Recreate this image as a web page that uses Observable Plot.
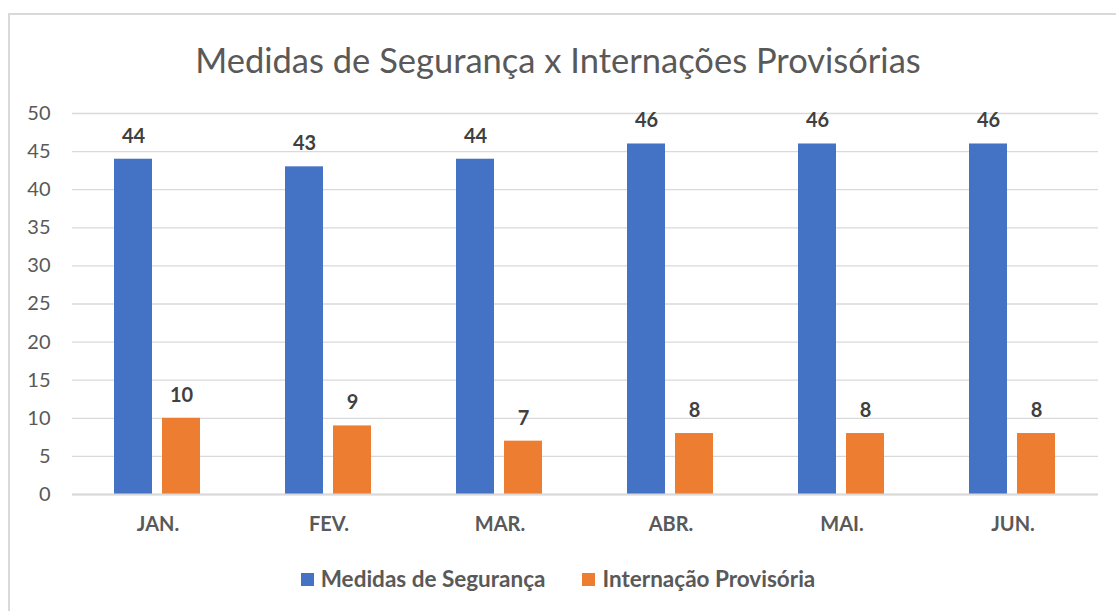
<!DOCTYPE html>
<html>
<head>
<meta charset="utf-8">
<script src="https://cdn.jsdelivr.net/npm/d3@7"></script>
<script src="https://cdn.jsdelivr.net/npm/@observablehq/plot@0.6"></script>
<style>
  html, body { margin: 0; padding: 0; background: #fff; }
  body { width: 1116px; height: 611px; overflow: hidden; font-family: Lato, "Open Sans", sans-serif; }
  #frame { position: absolute; left: 8px; top: 13px; width: 1200px; height: 700px; border-left: 2px solid #d9d9d9; border-top: 2px solid #d9d9d9; box-sizing: border-box; }
  #wrap { position: relative; width: 1116px; height: 611px; }
  #title { height: 95px; box-sizing: border-box; padding-top: 40px; text-align: center; font-size: 34.5px; line-height: 40px; color: #595959; position: relative; }
  #chart { position: relative; height: 455px; }
  #legend { position: relative; display: flex; justify-content: center; align-items: center; gap: 37px; padding-top: 16px; font-size: 22.5px; line-height: 26px; font-weight: bold; color: #595959; }
  .item { display: flex; align-items: center; gap: 7px; }
  .sw { width: 13px; height: 13px; display: inline-block; }
</style>
</head>
<body>
<div id="wrap">
  <div id="frame"></div>
  <div id="title">Medidas de Segurança x Internações Provisórias</div>
  <div id="chart"></div>
  <div id="legend"></div>
</div>
<script>
const months = ["JAN.", "FEV.", "MAR.", "ABR.", "MAI.", "JUN."];
const seriesNames = ["Medidas de Segurança", "Internação Provisória"];
const medidas = [44, 43, 44, 46, 46, 46];
const internacao = [10, 9, 7, 8, 8, 8];
const colors = ["#4472C4", "#ED7D31"];
const yTicks = [0, 5, 10, 15, 20, 25, 30, 35, 40, 45, 50];

const data = [];
months.forEach((m, i) => {
  data.push({month: m, series: seriesNames[0], value: medidas[i]});
  data.push({month: m, series: seriesNames[1], value: internacao[i]});
});

const plot = Plot.plot({
  width: 1116,
  height: 455,
  marginTop: 18,
  marginBottom: 56,
  marginLeft: 72,
  marginRight: 18,
  style: {fontFamily: "Lato, 'Open Sans', sans-serif", fontSize: "20px", color: "#595959", background: "transparent"},
  fx: {domain: months, padding: 0, label: null, axis: "bottom", tickSize: 0, tickPadding: 22},
  x: {domain: seriesNames, axis: null, paddingInner: 0.208, paddingOuter: 0.885},
  y: {domain: [0, 50], ticks: yTicks, tickSize: 0, tickPadding: 22, label: null},
  color: {domain: seriesNames, range: colors},
  marks: [
    Plot.gridY(yTicks, {stroke: "#d9d9d9", strokeOpacity: 1, strokeWidth: 1.3}),
    Plot.barY(data, {fx: "month", x: "series", y: "value", fill: "series"}),
    Plot.text(data, {fx: "month", x: "series", y: "value", text: d => String(d.value), dy: -23, fontWeight: "bold", fontSize: 20, fill: "#404040"}),
    Plot.ruleY([0], {stroke: "#d9d9d9", strokeWidth: 2})
  ]
});
document.getElementById("chart").appendChild(plot);
d3.select(plot).selectAll("g[aria-label='fx-axis tick label'] text, g[aria-label='fx-axis'] text").style("font-weight", "bold");

const legend = document.getElementById("legend");
seriesNames.forEach((s, i) => {
  const it = document.createElement("div");
  it.className = "item";
  it.innerHTML = `<span class="sw" style="background:${colors[i]}"></span><span>${s}</span>`;
  legend.appendChild(it);
});
</script>
</body>
</html>
